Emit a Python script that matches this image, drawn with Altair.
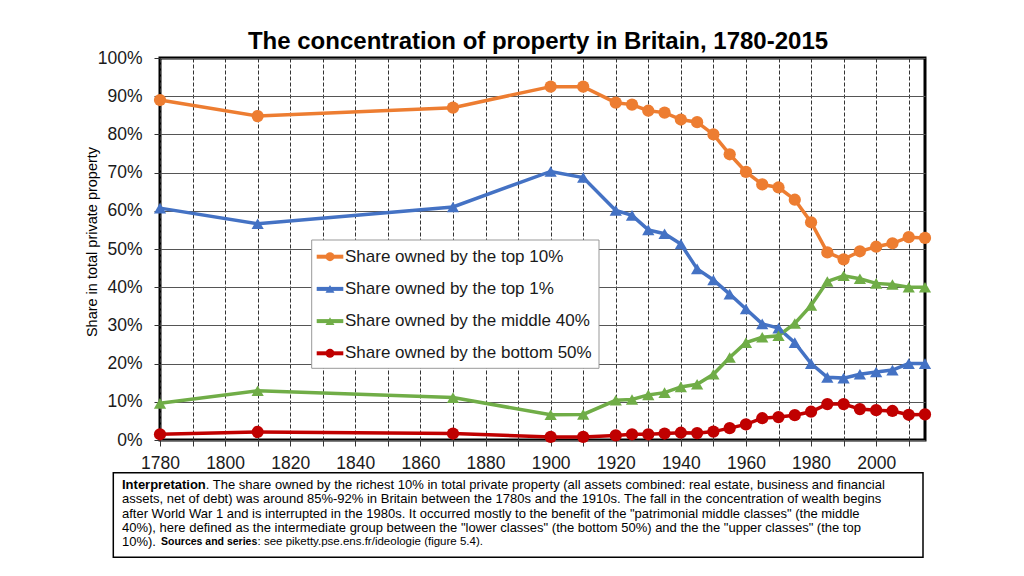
import altair as alt
import pandas as pd

# ---------------- data ----------------
years = [1780, 1810, 1870, 1900, 1910, 1920, 1925, 1930, 1935, 1940, 1945, 1950,
         1955, 1960, 1965, 1970, 1975, 1980, 1985, 1990, 1995, 2000, 2005, 2010, 2015]
top10 = [89.0, 84.8, 87.0, 92.5, 92.5, 88.3, 87.8, 86.2, 85.7, 83.9, 83.2, 80.0,
         74.8, 70.2, 66.9, 66.1, 62.9, 57.0, 49.1, 47.3, 49.4, 50.6, 51.5, 53.1, 52.9]
top1 = [60.7, 56.6, 61.0, 70.3, 68.7, 60.1, 58.8, 55.0, 54.0, 51.3, 44.8, 41.9,
        38.2, 34.3, 30.4, 29.3, 25.5, 20.0, 16.4, 16.2, 17.2, 17.8, 18.3, 20.0, 20.0]
mid40 = [9.6, 12.9, 11.1, 6.6, 6.7, 10.4, 10.6, 11.8, 12.4, 13.9, 14.6, 17.2,
         21.6, 25.5, 26.9, 27.3, 30.5, 35.2, 41.5, 43.0, 42.2, 41.0, 40.7, 40.0, 40.0]
bot50 = [1.5, 2.1, 1.7, 0.8, 0.8, 1.2, 1.5, 1.5, 1.7, 1.9, 1.8, 2.2,
         3.1, 4.1, 5.7, 6.0, 6.5, 7.4, 9.4, 9.4, 8.1, 7.8, 7.6, 6.6, 6.7]

series_names = ["Share owned by the top 10%", "Share owned by the top 1%",
                "Share owned by the middle 40%", "Share owned by the bottom 50%"]
series_colors = ["#ED7D31", "#4472C4", "#70AD47", "#C00000"]
series_shapes = ["circle", "triangle-up", "triangle-up", "circle"]

x_ticks = list(range(1780, 2011, 10))
y_ticks = list(range(0, 101, 10))

title_text = "The concentration of property in Britain, 1780-2015"
y_title = "Share in total private property"
note_lines = [
    ". The share owned by the richest 10% in total private property (all assets combined: real estate, business and financial",
    "assets, net of debt) was around 85%-92% in Britain between the 1780s and the 1910s. The fall in the concentration of wealth begins",
    "after World War 1 and is interrupted in the 1980s. It occurred mostly to the benefit of the \"patrimonial middle classes\" (the middle",
    "40%), here defined as the intermediate group between the \"lower classes\" (the bottom 50%) and the the \"upper classes\" (the top",
]
note_bold1 = "Interpretation"
note_last_a = "10%). "
note_last_b = "Sources and series"
note_last_c = ": see piketty.pse.ens.fr/ideologie (figure 5.4)."

# ---------------- tables ----------------
rows = []
for name, vals in zip(series_names, [top10, top1, mid40, bot50]):
    for yr, v in zip(years, vals):
        rows.append({"year": yr, "share": v, "series": name})
df = pd.DataFrame(rows)
legend_df = pd.DataFrame({"series": series_names, "row": list(range(len(series_names)))})
one = pd.DataFrame({"k": [0]})

FONT = "Liberation Sans, Arial, sans-serif"

color_scale = alt.Scale(domain=series_names, range=series_colors)
shape_scale = alt.Scale(domain=series_names, range=series_shapes)

x_enc = alt.X(
    "year:Q",
    scale=alt.Scale(domain=[1780, 2015], nice=False, zero=False),
    axis=alt.Axis(
        values=x_ticks,
        labelExpr="datum.value % 20 == 0 ? '' + datum.value : ''",
        title=None, grid=True, gridColor="#333333", gridDash=[4, 2], gridWidth=1,
        tickSize=6, tickColor="#333333", labelFontSize=17.5, labelColor="#1a1a1a",
        labelPadding=8, domain=False, labelFont=FONT, labelFlush=False, labelOverlap=False,
    ),
)
y_enc = alt.Y(
    "share:Q",
    scale=alt.Scale(domain=[0, 100], nice=False),
    axis=alt.Axis(
        values=y_ticks,
        labelExpr="datum.value + '%'",
        title=None, grid=True, gridColor="#555555", gridWidth=1,
        tickSize=6, tickColor="#333333", labelFontSize=17.5, labelColor="#1a1a1a",
        labelPadding=12, domain=False, labelFont=FONT, labelFlush=False, labelOverlap=False,
    ),
)

lines = alt.Chart(df).mark_line(strokeWidth=3.5).encode(
    x=x_enc, y=y_enc,
    color=alt.Color("series:N", scale=color_scale, legend=None),
)
points = alt.Chart(df).mark_point(filled=True, size=150, opacity=1).encode(
    x=x_enc, y=y_enc,
    color=alt.Color("series:N", scale=color_scale, legend=None),
    shape=alt.Shape("series:N", scale=shape_scale, legend=None),
)
main = alt.layer(lines, points)

# ---------------- legend (drawn inside the plot) ----------------
leg_y = alt.Y("row:Q", scale=alt.Scale(domain=[0, 3], range=[198.7, 295.3]), axis=None)
leg_box = alt.Chart(one).mark_rect(fill="white", stroke="#999999", strokeWidth=1).encode(
    x=alt.value(151.7), x2=alt.value(439), y=alt.value(182), y2=alt.value(310.3))
leg_rule = alt.Chart(legend_df).mark_rule(strokeWidth=4).encode(
    x=alt.value(156.7), x2=alt.value(183.3), y=leg_y,
    color=alt.Color("series:N", scale=color_scale, legend=None))
leg_pt = alt.Chart(legend_df).mark_point(filled=True, size=80, opacity=1).encode(
    x=alt.value(170), y=leg_y,
    color=alt.Color("series:N", scale=color_scale, legend=None),
    shape=alt.Shape("series:N", scale=shape_scale, legend=None))
leg_txt = alt.Chart(legend_df).mark_text(align="left", baseline="middle", fontSize=17,
                                          font=FONT, color="#1a1a1a").encode(
    x=alt.value(185), y=leg_y, text="series:N")
legend_layer = alt.layer(leg_box, leg_rule, leg_pt, leg_txt)


def label(text, x, y, **kw):
    return alt.Chart(one).mark_text(text=text, **kw).encode(x=alt.value(x), y=alt.value(y))


title = label(title_text, 378, -9, align="center", baseline="alphabetic", fontSize=24,
              fontWeight="bold", font=FONT, color="black")
ytitle = label(y_title, -67.5, 184, align="center", baseline="middle", angle=270,
               fontSize=14.5, font=FONT, color="black")

note_box = alt.Chart(one).mark_rect(fill="white", stroke="black", strokeWidth=1.5).encode(
    x=alt.value(-46.7), x2=alt.value(763), y=alt.value(414.7), y2=alt.value(499.3))

line_y = [427.3, 441.4, 455.5, 469.6, 483.7]
notes = [note_box,
         label(note_bold1, -38, line_y[0], align="left", baseline="middle", fontSize=13,
               fontWeight="bold", font=FONT, color="black"),
         label(note_lines[0], 45.8, line_y[0], align="left", baseline="middle", fontSize=13,
               font=FONT, color="black")]
for i in range(1, 4):
    notes.append(label(note_lines[i], -38, line_y[i], align="left", baseline="middle",
                       fontSize=13, font=FONT, color="black"))
notes.append(label(note_last_a, -38, line_y[4], align="left", baseline="middle", fontSize=13,
                   font=FONT, color="black"))
notes.append(label(note_last_b, 1.0, line_y[4], align="left", baseline="middle", fontSize=10.5,
                   fontWeight="bold", font=FONT, color="black"))
notes.append(label(note_last_c, 97.5, line_y[4], align="left", baseline="middle", fontSize=11.5,
                   font=FONT, color="black"))

chart = alt.layer(main, legend_layer, title, ytitle, *notes).resolve_scale(
    y="independent"
).properties(
    width=765, height=382,
    autosize=alt.AutoSizeParams(type="none"),
    padding={"left": 152, "top": 50, "right": 60, "bottom": 125},
).configure_view(stroke="black", strokeWidth=3)

chart.save("out.html", embed_options={"renderer": "svg", "actions": False})
